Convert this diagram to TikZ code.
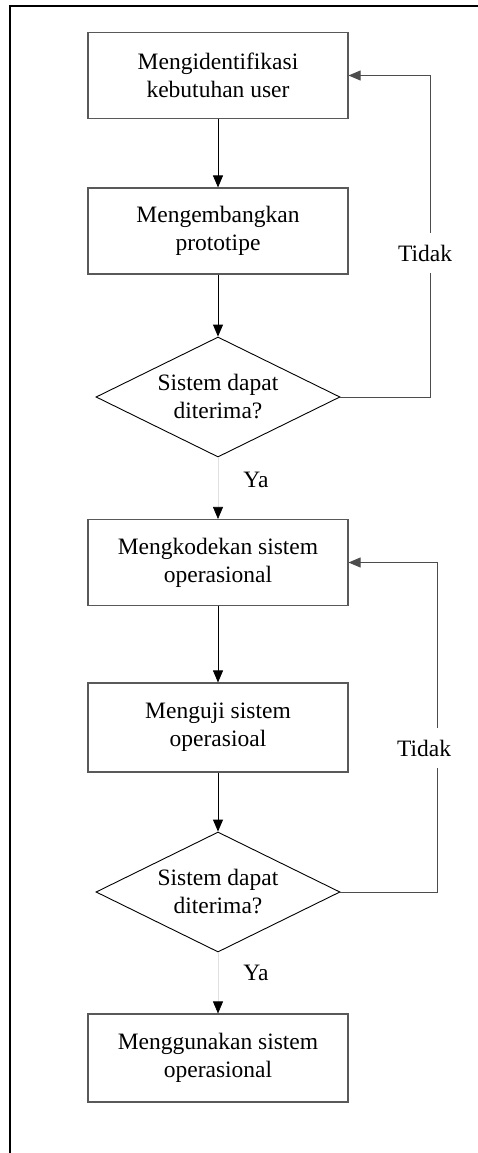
\documentclass[tikz,border=0pt]{standalone}
\usepackage{fontspec}
\setmainfont{Liberation Serif}
\usetikzlibrary{positioning,arrows.meta,shapes.geometric}

\begin{document}
\begin{tikzpicture}[
    x=1pt, y=-1pt,
    every node/.style={font=\fontsize{23.5}{28}\selectfont},
    process/.style={rectangle, draw=black!65, line width=1.1pt, minimum width=260pt, minimum height=86pt, align=center, inner sep=2pt},
    decision/.style={diamond, draw=black, line width=0.9pt, aspect=2, inner sep=0pt, minimum width=244pt, minimum height=120pt, align=center},
    arrow/.style={-{Triangle[length=12pt, width=10pt]}, line width=0.9pt},
    yesarrow/.style={-{Triangle[length=12pt, width=10pt, color=black]}, line width=0.6pt, draw=black!12},
    loopline/.style={draw=black!70, line width=0.9pt},
    lbl/.style={fill=white, inner xsep=2pt, inner ysep=12pt},
    frame/.style={line width=2.2pt, black}
]
\useasboundingbox (0,0) rectangle (478,1153);

% === Frame ===
\coordinate (frametr) at (478,6);
\coordinate (framebl) at (10,1153);
\draw[frame] (frametr) -| (framebl);

% === Prototyping stage ===
\node[process] (identify) at (218,75.5) {Mengidentifikasi\\kebutuhan user};
\node[process] (prototype) at (218,231) {Mengembangkan\\prototipe};
\node[decision] (check1) at (218,397) {Sistem dapat\\diterima?};

% === Operational stage ===
\node[process] (coding) at (218,562.5) {Mengkodekan sistem\\operasional};
\node[process, minimum height=89pt] (testing) at (218,727.5) {Menguji sistem\\operasioal};
\node[decision] (check2) at (218,892) {Sistem dapat\\diterima?};
\node[process, minimum height=88pt] (usage) at (218,1058) {Menggunakan sistem\\operasional};

% === ARROWS ===
\draw[arrow] (identify) -- (prototype);
\draw[arrow] (prototype) -- (check1);
\draw[yesarrow] (check1) -- (coding);
\draw[arrow] (coding) -- (testing);
\draw[arrow] (testing) -- (check2);
\draw[yesarrow] (check2) -- (usage);

% Loops back
\draw[arrow, loopline] (check1.east) -- ++(90,0) |- (identify.east);
\draw[arrow, loopline] (check2.east) -- ++(97,0) |- (coding.east);

% === Labels ===
\node[lbl] (no1) at (425,253) {Tidak};
\node[lbl] (no2) at (424,748) {Tidak};
\node (yes1) at (256,480) {Ya};
\node (yes2) at (256,973) {Ya};

\end{tikzpicture}
\end{document}
